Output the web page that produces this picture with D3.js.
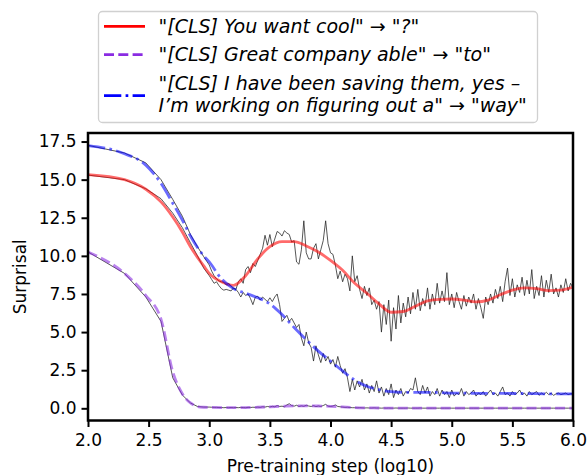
<!DOCTYPE html>
<html><head><meta charset="utf-8">
<script src="https://cdn.jsdelivr.net/npm/d3@7"></script>
<style>
body{margin:0;background:#fff}
svg{display:block}
text{font-family:"DejaVu Sans",sans-serif;fill:#000}
</style>
</head><body>
<svg id="chart" width="588" height="475"></svg>
<script>
// ---------- data (log10 pre-training step, surprisal) ----------
const rawSteps = [2.0,2.301,2.477,2.602,2.699,2.778,2.845,2.903,2.954,
3.00,3.02,3.04,3.06,3.08,3.10,3.12,3.14,3.16,3.18,
3.20,3.22,3.24,3.26,3.28,3.30,3.32,3.34,3.36,3.38,
3.40,3.42,3.44,3.46,3.48,3.50,3.52,3.54,3.56,3.58,
3.60,3.62,3.64,3.66,3.68,3.70,3.72,3.74,3.76,3.78,
3.80,3.82,3.84,3.86,3.88,3.90,3.92,3.94,3.96,3.98,
4.00,4.02,4.04,4.06,4.08,4.10,4.12,4.14,4.16,4.18,
4.20,4.22,4.24,4.26,4.28,4.30,4.32,4.34,4.36,4.38,
4.40,4.42,4.44,4.46,4.48,4.50,4.52,4.54,4.56,4.58,
4.60,4.62,4.64,4.66,4.68,4.70,4.72,4.74,4.76,4.78,
4.80,4.82,4.84,4.86,4.88,4.90,4.92,4.94,4.96,4.98,
5.00,5.02,5.04,5.06,5.08,5.10,5.12,5.14,5.16,5.18,
5.20,5.22,5.24,5.26,5.28,5.30,5.32,5.34,5.36,5.38,
5.40,5.42,5.44,5.46,5.48,5.50,5.52,5.54,5.56,5.58,
5.60,5.62,5.64,5.66,5.68,5.70,5.72,5.74,5.76,5.78,
5.80,5.82,5.84,5.86,5.88,5.90,5.92,5.94,5.96,5.98,
6.00];

const rawCool = [15.3,15.0,14.4,13.75,12.8,11.85,10.85,10.0,9.2,
8.7,8.45,8.2,8.3,8.05,7.85,7.75,7.8,7.75,7.7,
7.9,7.8,8.3,8.5,8.2,9.1,9.3,8.9,9.5,9.3,
9.7,10.1,10.5,11.35,10.7,11.4,10.6,11.1,11.6,11.5,
11.3,11.65,11.5,11.4,10.9,11.0,9.6,9.45,10.4,12.3,
10.2,9.8,9.8,10.5,10.8,9.8,10.4,11.0,12.3,10.8,
10.2,10.1,9.4,8.5,9.0,8.3,8.8,8.5,7.7,10.0,
8.3,8.7,7.8,7.2,8.0,7.4,7.9,6.8,7.1,6.5,
7.0,5.0,6.8,5.5,7.1,4.4,6.6,5.2,7.4,5.6,
6.9,6.0,7.3,6.2,7.6,6.5,7.8,6.4,7.2,6.7,
7.9,6.5,7.5,6.8,8.2,6.9,7.7,7.0,8.9,6.8,
7.5,6.6,7.6,7.0,6.5,7.4,6.7,7.3,6.9,7.5,
6.5,7.2,6.6,5.9,7.3,6.8,7.5,6.9,7.8,7.2,
8.0,7.0,8.3,9.2,7.4,8.5,7.3,8.1,7.6,8.6,
7.4,8.4,7.5,9.1,7.2,8.0,7.4,8.7,7.3,8.4,
7.6,8.8,7.5,7.9,7.3,8.1,7.6,8.5,7.7,8.2,
7.9];

const rawAble = [10.26,8.85,7.3,5.7,2.0,0.87,0.35,0.12,0.08,
0.08,0.07,0.06,0.06,0.05,0.05,0.04,0.05,0.04,0.05,
0.04,0.05,0.04,0.06,0.05,0.04,0.06,0.05,0.07,0.06,
0.08,0.06,0.1,0.08,0.12,0.09,0.13,0.1,0.18,0.12,
0.14,0.1,0.22,0.3,0.18,0.14,0.2,0.12,0.16,0.13,
0.2,0.15,0.12,0.17,0.11,0.15,0.12,0.18,0.26,0.14,
0.12,0.15,0.22,0.12,0.1,0.08,0.06,0.07,0.05,0.04,
0.04,0.03,0.04,0.03,0.02,0.03,0.02,0.02,0.03,0.02,
0.02,0.01,0.02,0.01,0.02,0.01,0.01,0.02,0.01,0.01,
0.01,0.01,0.02,0.01,0.01,0.01,0.01,0.02,0.01,0.01,
0.01,0.01,0.01,0.01,0.01,0.01,0.01,0.01,0.01,0.01,
0.01,0.01,0.01,0.01,0.01,0.01,0.01,0.01,0.01,0.01,
0.01,0.01,0.01,0.01,0.01,0.01,0.01,0.01,0.01,0.01,
0.01,0.01,0.01,0.01,0.01,0.01,0.01,0.01,0.01,0.01,
0.01,0.01,0.01,0.01,0.01,0.01,0.01,0.01,0.01,0.01,
0.01,0.01,0.01,0.01,0.01,0.01,0.01,0.01,0.01,0.01,
0.01];

const rawWay = [17.25,16.75,16.1,15.0,13.7,12.6,11.4,10.6,9.95,
9.4,9.0,8.7,8.5,8.35,8.3,8.25,8.1,8.2,8.0,
7.85,7.8,7.6,7.3,7.6,7.4,7.5,7.2,6.8,7.3,
7.35,7.1,7.3,7.15,7.0,7.25,7.0,7.3,7.5,6.8,
5.7,5.9,6.1,5.7,5.9,5.6,5.3,5.5,4.6,4.1,
5.0,4.3,4.0,3.1,4.1,3.5,3.0,3.6,3.1,3.4,
2.9,3.2,2.7,3.4,2.8,2.3,2.6,2.0,1.1,1.9,
1.2,1.8,1.4,1.9,1.2,1.6,1.0,1.5,1.1,1.8,
1.0,1.4,0.8,1.3,0.9,1.6,0.7,1.2,0.9,1.3,
0.8,1.1,1.0,1.3,1.2,2.0,1.1,0.9,1.5,1.0,
1.4,0.8,1.1,0.9,1.3,0.8,1.2,0.9,1.1,0.7,
1.2,0.8,1.0,0.9,1.3,0.8,1.1,0.9,1.0,1.2,
0.8,1.0,0.9,1.1,0.8,1.0,1.2,0.9,1.0,0.8,
1.1,1.4,0.9,1.0,0.8,1.1,0.9,1.0,1.2,0.9,
1.0,0.8,1.1,0.9,1.0,1.1,0.85,1.0,0.9,1.05,
0.9,1.0,0.85,0.95,1.0,0.9,0.95,1.0,0.9,0.95,
0.95];

const smoothSteps = [2.0,2.301,2.477,2.602,2.699,2.778,2.845,2.903,2.954,
3.0,3.1,3.2,3.3,3.4,3.5,3.6,3.7,3.8,3.9,
4.0,4.1,4.2,4.3,4.4,4.5,4.6,4.7,4.8,4.9,
5.0,5.1,5.2,5.3,5.4,5.5,5.6,5.7,5.8,5.9,6.0];
const smoothCool = [15.33,15.0,14.37,13.54,12.55,11.57,10.6,9.9,9.35,
8.85,8.3,8.07,8.7,9.8,10.6,10.93,10.93,10.65,10.25,
9.7,9.05,8.2,7.55,6.85,6.3,6.35,6.7,7.05,7.15,
7.17,7.1,6.98,7.1,7.45,7.75,7.9,7.85,7.72,7.75,7.95];
const smoothAble = [10.26,8.85,7.4,5.85,2.4,0.95,0.35,0.12,0.07,
0.06,0.05,0.05,0.05,0.07,0.1,0.13,0.16,0.16,0.15,
0.13,0.09,0.05,0.03,0.02,0.01,0.01,0.01,0.01,0.01,
0.01,0.01,0.01,0.01,0.01,0.01,0.01,0.01,0.01,0.01,0.01];
const smoothWay = [17.23,16.7,15.95,14.75,13.45,12.35,11.3,10.55,10.0,
9.6,8.5,7.85,7.55,7.25,6.85,6.15,5.3,4.5,3.75,
3.1,2.45,1.85,1.45,1.22,1.1,1.05,1.05,1.05,1.03,
1.0,1.0,0.98,0.98,0.98,0.97,0.97,0.96,0.95,0.95,0.95];

const xTicks = [2.0,2.5,3.0,3.5,4.0,4.5,5.0,5.5,6.0];
const yTicks = [0.0,2.5,5.0,7.5,10.0,12.5,15.0,17.5];
const legendLines = [
  ['"[CLS] You want cool" \u2192 "?"'],
  ['"[CLS] Great company able" \u2192 "to"'],
  ['"[CLS] I have been saving them, yes \u2013', 'I\u2019m working on figuring out a" \u2192 "way"']
];

// ---------- layout ----------
const W = 588, H = 475;
const L = 88, R = 573, T = 133, B = 420.5;
const svg = d3.select('#chart');

const x = d3.scaleLinear().domain([2, 6]).range([L, R]);
const y = d3.scaleLinear().domain([-0.80, 18.06]).range([B, T]);

svg.append('defs').append('clipPath').attr('id', 'clip')
  .append('rect').attr('x', L).attr('y', T).attr('width', R - L).attr('height', B - T);

const series = [
  {raw: rawCool, smooth: smoothCool, color: '#ff0000', dash: null},
  {raw: rawAble, smooth: smoothAble, color: '#8a2be2', dash: '10,4.3'},
  {raw: rawWay, smooth: smoothWay, color: '#0000ff', dash: '17.3,4.3,2.7,4.3'}
];

const plot = svg.append('g').attr('clip-path', 'url(#clip)');
const rawLine = d3.line().x((d) => x(d[0])).y((d) => y(d[1]));
const smLine = d3.line().x((d) => x(d[0])).y((d) => y(d[1])).curve(d3.curveMonotoneX);

series.forEach((s) => {
  plot.append('path')
    .attr('d', rawLine(d3.zip(rawSteps, s.raw)))
    .attr('fill', 'none').attr('stroke', '#222').attr('stroke-width', 0.9)
    .attr('stroke-opacity', 0.85);
});
series.forEach((s) => {
  plot.append('path')
    .attr('d', smLine(d3.zip(smoothSteps, s.smooth)))
    .attr('fill', 'none').attr('stroke', s.color).attr('stroke-width', 2.8)
    .attr('stroke-opacity', 0.58)
    .attr('stroke-dasharray', s.dash);
});

// axes
const fmt = d3.format('.1f');
const xAxis = svg.append('g').attr('transform', `translate(0,${B})`)
  .call(d3.axisBottom(x).tickValues(xTicks).tickFormat(fmt).tickSize(6.5).tickSizeOuter(0).tickPadding(7));
const yAxis = svg.append('g').attr('transform', `translate(${L},0)`)
  .call(d3.axisLeft(y).tickValues(yTicks).tickFormat(fmt).tickSize(6.5).tickSizeOuter(0).tickPadding(5));
[xAxis, yAxis].forEach((a) => {
  a.select('.domain').remove();
  a.selectAll('.tick line').attr('stroke', '#000').attr('stroke-width', 2);
  a.selectAll('.tick text').attr('font-size', 17).attr('font-family', '"DejaVu Sans"');
});

// spines
svg.append('rect').attr('x', L).attr('y', T).attr('width', R - L).attr('height', B - T)
  .attr('fill', 'none').attr('stroke', '#000').attr('stroke-width', 2.5);

// axis labels
svg.append('text').attr('x', (L + R) / 2).attr('y', 471.5).attr('text-anchor', 'middle')
  .attr('font-size', 17).text('Pre-training step (log10)');
svg.append('text').attr('transform', `translate(25.5,${(T + B) / 2}) rotate(-90)`)
  .attr('text-anchor', 'middle').attr('font-size', 17).text('Surprisal');

// legend
const lg = svg.append('g');
lg.append('rect').attr('x', 98.5).attr('y', 11.5).attr('width', 439).attr('height', 111)
  .attr('rx', 4).attr('fill', '#fff').attr('fill-opacity', 0.8)
  .attr('stroke', '#d0d0d0').attr('stroke-width', 1.3);
const handleY = [26.3, 54.7, 95.7];
const textY = [[32.7], [61], [90, 112]];
series.forEach((s, i) => {
  lg.append('line').attr('x1', 104).attr('x2', 145).attr('y1', handleY[i]).attr('y2', handleY[i])
    .attr('stroke', s.color).attr('stroke-width', 2.8).attr('stroke-dasharray', s.dash);
  legendLines[i].forEach((t, j) => {
    lg.append('text').attr('x', 158.5).attr('y', textY[i][j]).attr('font-size', 19)
      .attr('font-style', 'italic').text(t);
  });
});
</script>
</body></html>
